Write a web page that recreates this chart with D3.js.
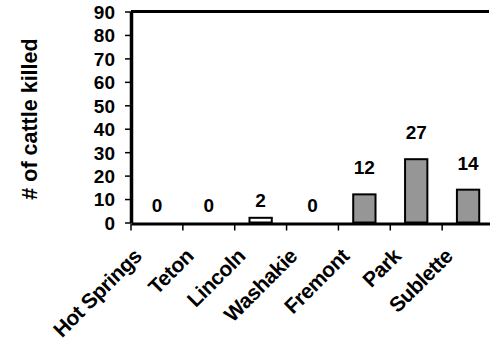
<!DOCTYPE html>
<html><head><meta charset="utf-8">
<script src="https://cdn.jsdelivr.net/npm/d3@7"></script>
<style>
html,body{margin:0;padding:0;background:#fff;}
svg{display:block;font-family:"Liberation Sans",Arial,sans-serif;font-weight:bold;}
</style></head>
<body>
<svg id="chart" width="490" height="349"></svg>
<script>
const categories = ["Hot Springs","Teton","Lincoln","Washakie","Fremont","Park","Sublette"];
const values = [0,0,2,0,12,27,14];
const yTicks = [0,10,20,30,40,50,60,70,80,90];
const yTitle = "# of cattle killed";

const svg = d3.select("#chart");
const x0 = 131, x1 = 494, yBase = 222.5, yTop = 11.5;

const x = d3.scaleBand().domain(categories).range([x0, x1]).paddingInner(0.57).paddingOuter(0.285);
const xb = d3.scaleBand().domain(categories).range([x0, x1]);
const y = d3.scaleLinear().domain([0, 90]).range([yBase, yTop]);

// bars
svg.append("g").selectAll("rect").data(values).join("rect")
  .attr("x", (d,i) => x(categories[i]))
  .attr("width", x.bandwidth())
  .attr("y", d => y(d))
  .attr("height", d => y(0) - y(d))
  .attr("fill", d => d < 5 ? "#fff" : "#969696")
  .attr("stroke", "#000")
  .attr("stroke-width", 2);

// value labels
svg.append("g").selectAll("text").data(values).join("text")
  .attr("x", (d,i) => xb(categories[i]) + xb.bandwidth()/2)
  .attr("y", d => y(d) - (d < 5 ? 11 : 20))
  .attr("text-anchor", "middle")
  .attr("font-size", 19)
  .attr("fill", "#000")
  .text(d => d);

// top frame line
svg.append("line")
  .attr("x1", x0).attr("x2", 489)
  .attr("y1", y(90)).attr("y2", y(90))
  .attr("stroke", "#000").attr("stroke-width", 3);

// y axis
const yAxis = d3.axisLeft(y).tickValues(yTicks).tickSize(6).tickSizeOuter(0).tickPadding(10);
const gy = svg.append("g").attr("transform", `translate(${x0},0)`).call(yAxis);
gy.select(".domain").attr("stroke", "#000").attr("stroke-width", 3.5);
gy.selectAll(".tick line").attr("stroke", "#000").attr("stroke-width", 1.5);
gy.selectAll(".tick text").attr("font-size", 19).attr("font-family", "Liberation Sans, Arial, sans-serif")
  .attr("font-weight", "bold").attr("fill", "#000").attr("dy", "0.36em");

// x axis
const xAxis = d3.axisBottom(xb).tickSize(0).tickFormat("");
const gx = svg.append("g").attr("transform", `translate(0,${yBase+1})`).call(xAxis);
gx.select(".domain").attr("stroke", "#000").attr("stroke-width", 3);
gx.selectAll(".tick").remove();
// boundary ticks
gx.selectAll("line.bt").data(categories).join("line").attr("class","bt")
  .attr("x1", d => xb(d)).attr("x2", d => xb(d))
  .attr("y1", 0).attr("y2", 7)
  .attr("stroke", "#000").attr("stroke-width", 1.5);

// x labels
svg.append("g").selectAll("text").data(categories).join("text")
  .attr("transform", d => `translate(${xb(d) + xb.bandwidth()/2 - 14},${yBase + 35}) rotate(-45)`)
  .attr("text-anchor", "end")
  .attr("font-size", 21)
  .attr("letter-spacing", "-0.4")
  .attr("fill", "#000")
  .text(d => d);

// y title
svg.append("text")
  .attr("transform", `translate(37,${(yBase+yTop)/2 + 2}) rotate(-90)`)
  .attr("text-anchor", "middle")
  .attr("font-size", 21.5)
  .attr("fill", "#000")
  .text(yTitle);
</script>
</body></html>
